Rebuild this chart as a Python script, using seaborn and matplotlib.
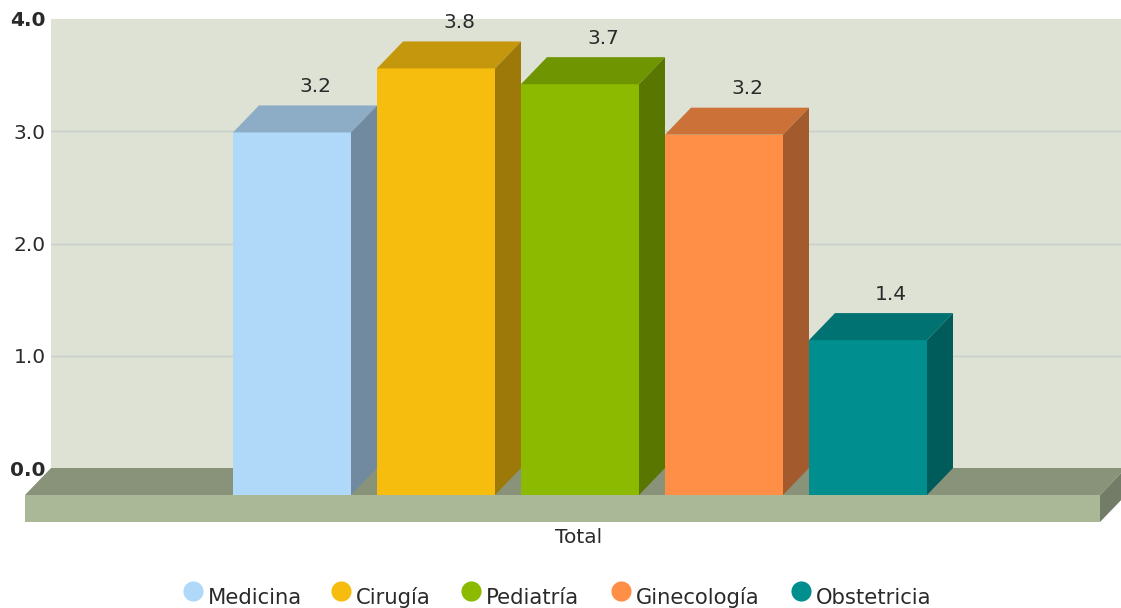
import matplotlib
matplotlib.use('Agg')
import matplotlib.pyplot as plt
import matplotlib.colors as mcolors
from matplotlib.patches import Polygon
import pandas as pd
import seaborn as sns

# Values
servicios = ['Medicina', 'Cirugía', 'Pediatría', 'Ginecología', 'Obstetricia']
valores = [3.23, 3.80, 3.66, 3.21, 1.38]
colores = ['#B0D8F8', '#F6BD0F', '#8BBA00', '#FF8E46', '#008E8E']
y_ticks = [0.0, 1.0, 2.0, 3.0, 4.0]
categoria = 'Total'

WIDTH, HEIGHT = 1121, 608
# pixel scale of the chart
PX_X = 144.0
PX_Y = 112.25
DEPTH_X = 26 / PX_X
DEPTH_Y = 27 / PX_Y

WALL = '#DDE2D4'
GRID = '#C8CDCD'
FLOOR_FRONT = '#ABB898'
FLOOR_TOP = '#88937A'
FLOOR_SIDE = '#727C66'
TEXT = '#2A2A2A'
FONT_SIZE = 14.5
LEGEND_SIZE = 15.2

sns.set_theme(style='white')
plt.rcParams['font.family'] = ['DejaVu Sans']


def shade(color, factor):
    r, g, b = mcolors.to_rgb(color)
    return (r * factor, g * factor, b * factor)


df = pd.DataFrame({'servicio': servicios, 'valor': valores})

fig = plt.figure(figsize=(WIDTH / 100, HEIGHT / 100), dpi=100, facecolor='white')
# axes is the back wall of the 3D box
ax = fig.add_axes([51 / WIDTH, (HEIGHT - 468) / HEIGHT, 1075 / WIDTH, 449 / HEIGHT])
ax.set_facecolor(WALL)

sns.barplot(data=df, x='servicio', y='valor', hue='servicio', order=servicios,
            hue_order=servicios, palette=colores, saturation=1, width=118 / PX_X,
            legend=False, ax=ax)

bars = sorted(ax.patches, key=lambda p: p.get_x())

x_left = (51 - 318) / PX_X
x_right = (1126 - 318) / PX_X
ax.set_xlim(x_left, x_right)
ax.set_ylim(0, 4)

# Floor slab
ax.add_patch(Polygon([(x_left - DEPTH_X, -DEPTH_Y), (x_left, 0), (x_right, 0), (x_right - DEPTH_X, -DEPTH_Y)],
                     facecolor=FLOOR_TOP, edgecolor='none', clip_on=False, zorder=0.9))
ax.add_patch(Polygon([(x_left - DEPTH_X, -DEPTH_Y), (x_right - DEPTH_X, -DEPTH_Y),
                      (x_right - DEPTH_X, -2 * DEPTH_Y), (x_left - DEPTH_X, -2 * DEPTH_Y)],
                     facecolor=FLOOR_FRONT, edgecolor='none', clip_on=False, zorder=0.9))
ax.add_patch(Polygon([(x_right - DEPTH_X, -DEPTH_Y), (x_right, 0), (x_right, -DEPTH_Y), (x_right - DEPTH_X, -2 * DEPTH_Y)],
                     facecolor=FLOOR_SIDE, edgecolor='none', clip_on=False, zorder=0.9))

# Push the seaborn bars forward and give them a top and a side
for bar, valor, color in zip(bars, valores, colores):
    x0 = bar.get_x() - DEPTH_X
    x1 = x0 + bar.get_width()
    y0 = -DEPTH_Y
    y1 = y0 + valor
    bar.set_x(x0)
    bar.set_y(y0)
    bar.set_clip_on(False)
    bar.set_edgecolor('none')
    bar.set_zorder(2)
    ax.add_patch(Polygon([(x0, y1), (x1, y1), (x1 + DEPTH_X, valor), (x0 + DEPTH_X, valor)],
                         facecolor=shade(color, 0.8), edgecolor='none', clip_on=False, zorder=2))
    ax.add_patch(Polygon([(x1, y0), (x1 + DEPTH_X, 0), (x1 + DEPTH_X, valor), (x1, y1)],
                         facecolor=shade(color, 0.64), edgecolor='none', clip_on=False, zorder=2))
    ax.annotate(f'{valor:.1f}', xy=(x0 + bar.get_width() / 2 + DEPTH_X, valor), xytext=(-3, 19),
                textcoords='offset pixels', ha='center', va='center', fontsize=FONT_SIZE,
                color=TEXT, annotation_clip=False)

# Axes styling
sns.despine(ax=ax, left=True, bottom=True, top=True, right=True)
ax.set_axisbelow(True)
ax.set_yticks(y_ticks)
ax.set_yticklabels([f'{t:.1f}' for t in y_ticks], fontsize=FONT_SIZE, color=TEXT)
ax.get_yticklabels()[0].set_fontweight('bold')
ax.get_yticklabels()[-1].set_fontweight('bold')
ax.tick_params(axis='y', length=0, pad=4)
ax.set_xticks([])
ax.set_xlabel('')
ax.set_ylabel('')
ax.grid(axis='y', color=GRID, linewidth=1.0)
# no line along the top and bottom edge of the wall
ax.get_ygridlines()[0].set_visible(False)
ax.get_ygridlines()[-1].set_visible(False)

# Category label under the floor
fig.text(579 / WIDTH, 1 - 537.5 / HEIGHT, categoria, ha='center', va='center',
         fontsize=FONT_SIZE, color=TEXT)

# Legend, circle and name for each series
legend_x = [193, 341, 471, 621, 801]
for nombre, color, lx in zip(servicios, colores, legend_x):
    fig.add_artist(plt.Line2D([lx / WIDTH], [1 - 591 / HEIGHT], marker='o', markersize=14.5,
                              markerfacecolor=color, markeredgecolor='none', linestyle='none',
                              transform=fig.transFigure))
    fig.text((lx + 15) / WIDTH, 1 - 604 / HEIGHT, nombre, ha='left', va='baseline',
             fontsize=LEGEND_SIZE, color=TEXT)

fig.savefig('out.png', dpi=100)
